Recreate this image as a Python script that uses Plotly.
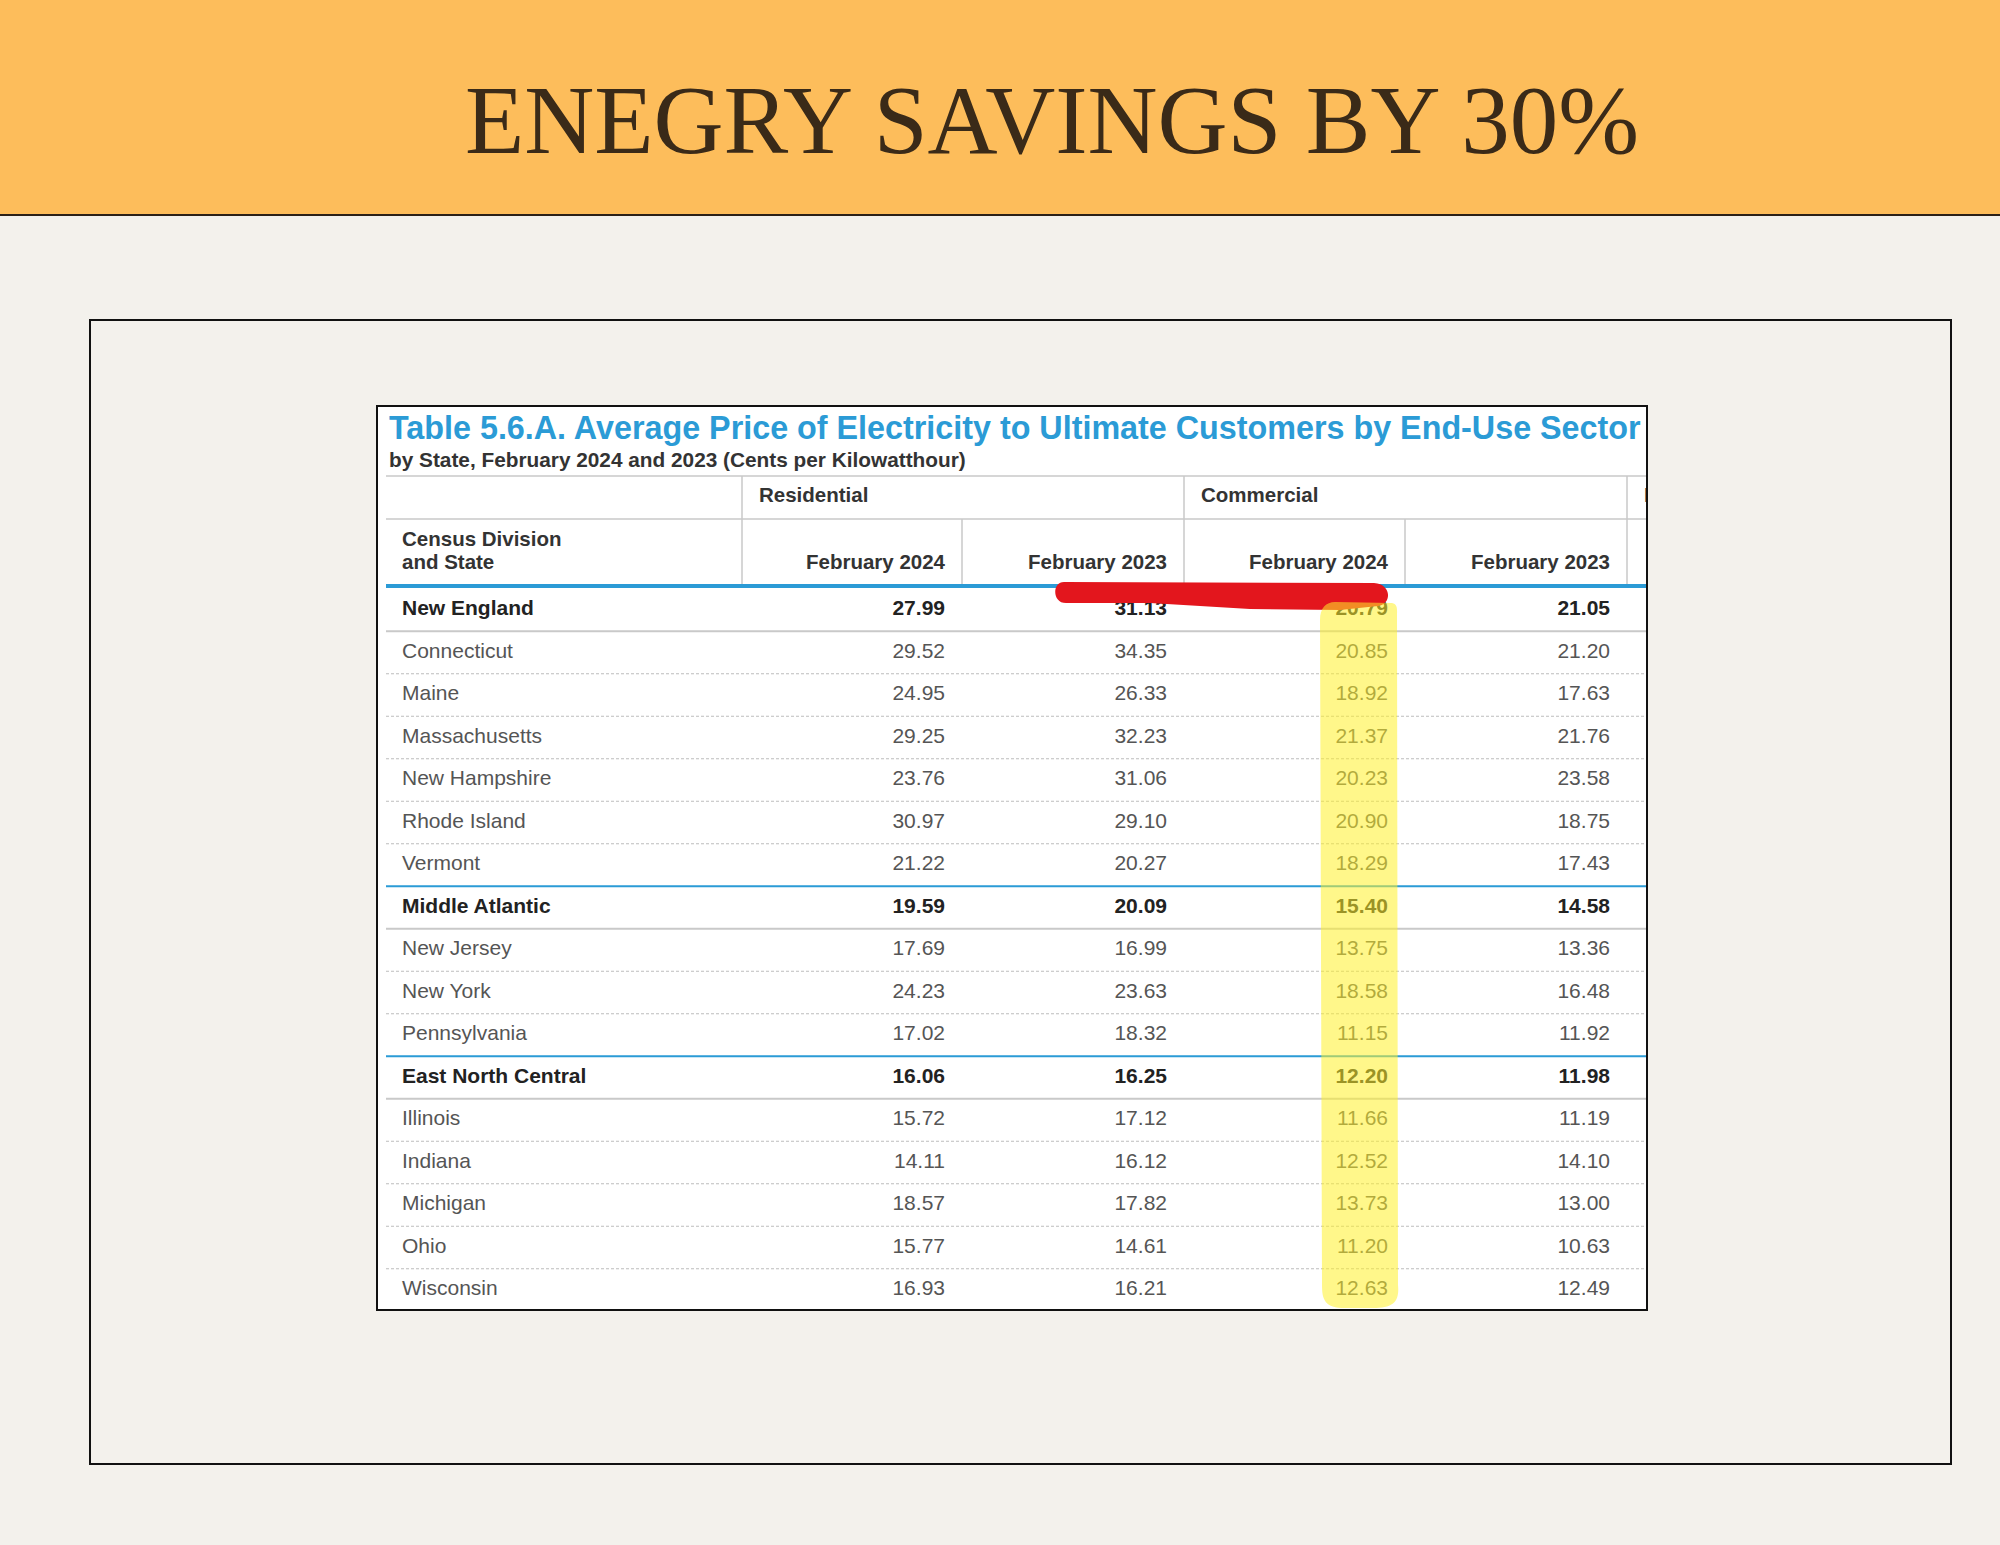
import plotly.graph_objects as go

# table content
states = ["New England", "Connecticut", "Maine", "Massachusetts", "New Hampshire",
          "Rhode Island", "Vermont", "Middle Atlantic", "New Jersey", "New York",
          "Pennsylvania", "East North Central", "Illinois", "Indiana", "Michigan",
          "Ohio", "Wisconsin"]
division_rows = ["New England", "Middle Atlantic", "East North Central"]

res_feb2024 = [27.99, 29.52, 24.95, 29.25, 23.76, 30.97, 21.22, 19.59, 17.69, 24.23,
               17.02, 16.06, 15.72, 14.11, 18.57, 15.77, 16.93]
res_feb2023 = [31.13, 34.35, 26.33, 32.23, 31.06, 29.10, 20.27, 20.09, 16.99, 23.63,
               18.32, 16.25, 17.12, 16.12, 17.82, 14.61, 16.21]
com_feb2024 = [20.79, 20.85, 18.92, 21.37, 20.23, 20.90, 18.29, 15.40, 13.75, 18.58,
               11.15, 12.20, 11.66, 12.52, 13.73, 11.20, 12.63]
com_feb2023 = [21.05, 21.20, 17.63, 21.76, 23.58, 18.75, 17.43, 14.58, 13.36, 16.48,
               11.92, 11.98, 11.19, 14.10, 13.00, 10.63, 12.49]

sectors = ["Residential", "Commercial", "Industrial"]
months = ["February 2024", "February 2023", "February 2024", "February 2023"]
title_text = "ENEGRY SAVINGS BY 30%"
table_title = "Table 5.6.A. Average Price of Electricity to Ultimate Customers by End-Use Sector"
table_subtitle = "by State, February 2024 and 2023 (Cents per Kilowatthour)"

# page geometry (px)
W, H = 2000, 1545
TL, TR, TT, TB = 377, 1647, 406, 1310
ROW0, PITCH = 610, 42.5


def row(py):
    return (py - ROW0) / PITCH


def rx(px):
    return px - TL


col_edges = [365, 585, 807, 1028, 1250]
value_x = [e - 17 for e in col_edges[1:]]
name_x = 25

FONT = "Liberation Sans, Arial, sans-serif"
BLUE = "#2b9bd6"
GRID = "#c9c9c9"

fig = go.Figure()

# header texts
fig.add_trace(go.Scatter(
    x=[12], y=[row(431)], mode="text", text=["<b>" + table_title + "</b>"],
    textposition="middle right", textfont=dict(family=FONT, size=32.3, color=BLUE),
    hoverinfo="skip"))
fig.add_trace(go.Scatter(
    x=[12], y=[row(462)], mode="text", text=["<b>" + table_subtitle + "</b>"],
    textposition="middle right", textfont=dict(family=FONT, size=20.8, color="#333333"),
    hoverinfo="skip"))
fig.add_trace(go.Scatter(
    x=[col_edges[0] + 17, col_edges[2] + 17, col_edges[4] + 17], y=[row(497)] * 3,
    mode="text", text=["<b>%s</b>" % s for s in sectors],
    textposition="middle right", textfont=dict(family=FONT, size=20.5, color="#333333"),
    hoverinfo="skip"))
fig.add_trace(go.Scatter(
    x=[name_x, name_x], y=[row(541), row(564)], mode="text",
    text=["<b>Census Division</b>", "<b>and State</b>"],
    textposition="middle right", textfont=dict(family=FONT, size=20.5, color="#333333"),
    hoverinfo="skip"))
fig.add_trace(go.Scatter(
    x=value_x, y=[row(564)] * 4, mode="text",
    text=["<b>%s</b>" % m for m in months],
    textposition="middle left", textfont=dict(family=FONT, size=20.5, color="#333333"),
    hoverinfo="skip"))

# body
rows = list(range(len(states)))
is_div = [s in division_rows for s in states]


def fmt(v, bold):
    s = "%.2f" % v
    return "<b>%s</b>" % s if bold else s


colors = ["#222222" if b else "#555555" for b in is_div]
fig.add_trace(go.Scatter(
    x=[name_x] * len(states), y=rows, mode="text",
    text=[("<b>%s</b>" % s) if b else s for s, b in zip(states, is_div)],
    textposition="middle right", textfont=dict(family=FONT, size=21, color=colors),
    hoverinfo="skip"))
for xv, series in zip(value_x, [res_feb2024, res_feb2023, com_feb2024, com_feb2023]):
    fig.add_trace(go.Scatter(
        x=[xv] * len(series), y=rows, mode="text",
        text=[fmt(v, b) for v, b in zip(series, is_div)],
        textposition="middle left", textfont=dict(family=FONT, size=21, color=colors),
        hoverinfo="skip"))

shapes = []
# header rules
for py in (476, 519):
    shapes.append(dict(type="line", xref="x", yref="y", x0=9, x1=1270, y0=row(py), y1=row(py),
                       line=dict(color=GRID, width=1.5)))
for i, e in enumerate(col_edges):
    top = row(476) if i % 2 == 0 else row(519)
    shapes.append(dict(type="line", xref="x", yref="y", x0=e, x1=e, y0=top, y1=row(586),
                       line=dict(color=GRID, width=1.5)))
shapes.append(dict(type="line", xref="x", yref="y", x0=9, x1=1270, y0=row(586), y1=row(586),
                   line=dict(color=BLUE, width=4)))

# row separators
for i in range(len(states) - 1):
    if is_div[i]:
        ln = dict(color=GRID, width=2)
    elif is_div[i + 1]:
        ln = dict(color=BLUE, width=2)
    else:
        ln = dict(color="#bdbdbd", width=1, dash="3px,2px")
    shapes.append(dict(type="line", xref="x", yref="y", x0=9, x1=1270,
                       y0=i + 0.5, y1=i + 0.5, line=ln))


def pth(segments):
    # segments: list of (cmd, [(px, py), ...]) in page pixels, one command per segment
    out = []
    for cmd, pts in segments:
        out.append(cmd + " " + " ".join("%.2f,%.4f" % (rx(a), row(b)) for a, b in pts))
    return " ".join(out) + " Z"


# red marker stroke under the header
shapes.append(dict(
    type="path", xref="x", yref="y", layer="above", fillcolor="#e3161d",
    line=dict(width=0),
    path=pth([("M", [(1064, 582)]), ("L", [(1374, 583)]),
              ("C", [(1392, 584), (1392, 604), (1378, 606)]),
              ("L", [(1340, 610)]), ("L", [(1250, 609)]), ("L", [(1150, 603)]),
              ("L", [(1066, 603)]),
              ("C", [(1052, 603), (1052, 582), (1064, 582)])])))
# yellow highlight over the commercial Feb 2024 column
shapes.append(dict(
    type="path", xref="x", yref="y", layer="above", fillcolor="#fff02a", opacity=0.55,
    line=dict(width=0),
    path=pth([("M", [(1335, 602)]), ("L", [(1392, 603)]),
              ("C", [(1398, 604), (1397, 610), (1397, 615)]),
              ("L", [(1398, 1285)]),
              ("C", [(1400, 1305), (1390, 1308), (1370, 1308)]),
              ("L", [(1345, 1308)]),
              ("C", [(1325, 1308), (1322, 1300), (1322, 1285)]),
              ("L", [(1320, 620)]),
              ("C", [(1320, 608), (1326, 602), (1335, 602)])])))
# table border
shapes.append(dict(type="rect", xref="x domain", yref="y domain", x0=0, x1=1, y0=0, y1=1,
                   layer="above", line=dict(color="#111111", width=2)))

# page decoration
shapes.append(dict(type="rect", xref="paper", yref="paper", x0=0, x1=1, y0=1 - 215 / H, y1=1,
                   fillcolor="#fdbd5b", line=dict(width=0), layer="below"))
shapes.append(dict(type="line", xref="paper", yref="paper", x0=0, x1=1,
                   y0=1 - 215 / H, y1=1 - 215 / H, line=dict(color="#2b2118", width=2)))
shapes.append(dict(type="rect", xref="paper", yref="paper", x0=90 / W, x1=1951 / W,
                   y0=1 - 1464 / H, y1=1 - 320 / H, line=dict(color="#111111", width=2),
                   layer="below"))

fig.update_layout(
    width=W, height=H,
    margin=dict(l=0, r=0, t=0, b=0),
    paper_bgcolor="#f3f1ec",
    plot_bgcolor="white",
    showlegend=False,
    shapes=shapes,
    xaxis=dict(domain=[TL / W, TR / W], range=[0, TR - TL], visible=False, fixedrange=True),
    yaxis=dict(domain=[1 - TB / H, 1 - TT / H], range=[row(TB), row(TT)], visible=False,
               fixedrange=True),
    annotations=[dict(
        x=1052 / W, y=1 - 121 / H, xref="paper", yref="paper", showarrow=False,
        text=title_text, xanchor="center", yanchor="middle",
        font=dict(family="Liberation Serif, serif", size=97, color="#3a2a18"))],
)

fig.write_html("out.html", config={"displayModeBar": False},
               post_script="document.body.style.margin='0';"
                           "document.body.style.overflow='hidden';")
